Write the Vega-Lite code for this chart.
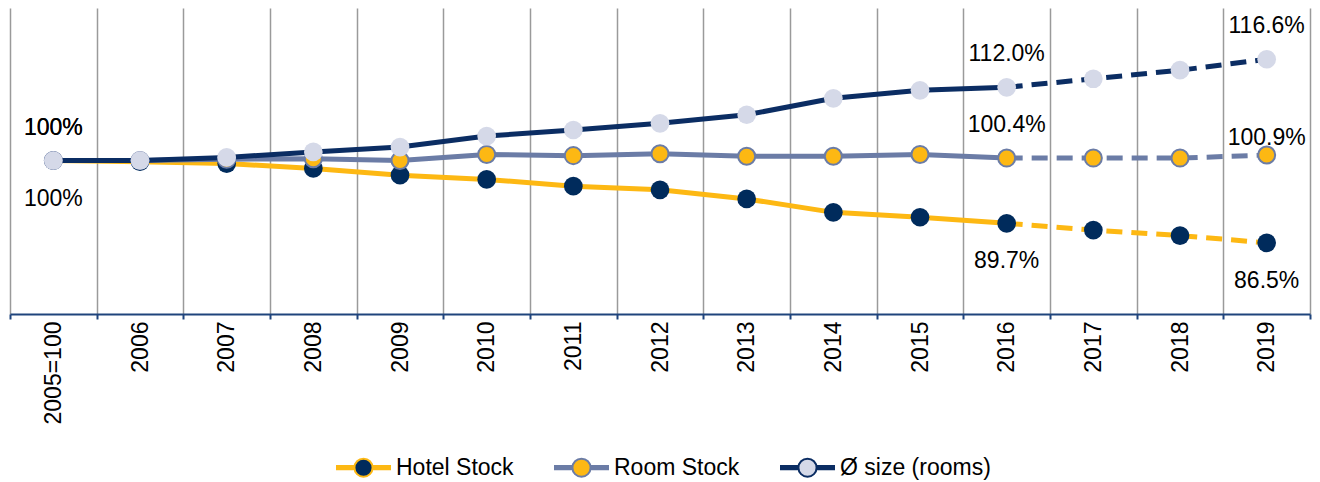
{
  "$schema": "https://vega.github.io/schema/vega-lite/v6.json",
  "width": 1300,
  "height": 306,
  "autosize": {"type": "none"},
  "padding": {"left": 10, "top": 8, "right": 10, "bottom": 168},
  "background": "white",
  "config": {
    "font": "Liberation Sans",
    "view": {"stroke": null}
  },
  "data": {
    "values": [
      {"year": "2005=100", "series": "Hotel Stock", "value": 100, "label": "100%"},
      {"year": "2006", "series": "Hotel Stock", "value": 99.8},
      {"year": "2007", "series": "Hotel Stock", "value": 99.5},
      {"year": "2008", "series": "Hotel Stock", "value": 98.7},
      {"year": "2009", "series": "Hotel Stock", "value": 97.6},
      {"year": "2010", "series": "Hotel Stock", "value": 96.9},
      {"year": "2011", "series": "Hotel Stock", "value": 95.8},
      {"year": "2012", "series": "Hotel Stock", "value": 95.2},
      {"year": "2013", "series": "Hotel Stock", "value": 93.7},
      {"year": "2014", "series": "Hotel Stock", "value": 91.5},
      {"year": "2015", "series": "Hotel Stock", "value": 90.7},
      {"year": "2016", "series": "Hotel Stock", "value": 89.7, "label": "89.7%"},
      {"year": "2017", "series": "Hotel Stock", "value": 88.6},
      {"year": "2018", "series": "Hotel Stock", "value": 87.7},
      {"year": "2019", "series": "Hotel Stock", "value": 86.5, "label": "86.5%"},
      {"year": "2005=100", "series": "Room Stock", "value": 100, "label": "100%"},
      {"year": "2006", "series": "Room Stock", "value": 100.0},
      {"year": "2007", "series": "Room Stock", "value": 100.2},
      {"year": "2008", "series": "Room Stock", "value": 100.3},
      {"year": "2009", "series": "Room Stock", "value": 100.0},
      {"year": "2010", "series": "Room Stock", "value": 101.0},
      {"year": "2011", "series": "Room Stock", "value": 100.8},
      {"year": "2012", "series": "Room Stock", "value": 101.1},
      {"year": "2013", "series": "Room Stock", "value": 100.7},
      {"year": "2014", "series": "Room Stock", "value": 100.7},
      {"year": "2015", "series": "Room Stock", "value": 101.0},
      {"year": "2016", "series": "Room Stock", "value": 100.4, "label": "100.4%"},
      {"year": "2017", "series": "Room Stock", "value": 100.4},
      {"year": "2018", "series": "Room Stock", "value": 100.4},
      {"year": "2019", "series": "Room Stock", "value": 100.9, "label": "100.9%"},
      {"year": "2005=100", "series": "Ø size (rooms)", "value": 100, "label": "100%"},
      {"year": "2006", "series": "Ø size (rooms)", "value": 100.0},
      {"year": "2007", "series": "Ø size (rooms)", "value": 100.5},
      {"year": "2008", "series": "Ø size (rooms)", "value": 101.4},
      {"year": "2009", "series": "Ø size (rooms)", "value": 102.2},
      {"year": "2010", "series": "Ø size (rooms)", "value": 104.0},
      {"year": "2011", "series": "Ø size (rooms)", "value": 105.0},
      {"year": "2012", "series": "Ø size (rooms)", "value": 106.1},
      {"year": "2013", "series": "Ø size (rooms)", "value": 107.5},
      {"year": "2014", "series": "Ø size (rooms)", "value": 110.2},
      {"year": "2015", "series": "Ø size (rooms)", "value": 111.5},
      {"year": "2016", "series": "Ø size (rooms)", "value": 112.0, "label": "112.0%"},
      {"year": "2017", "series": "Ø size (rooms)", "value": 113.4},
      {"year": "2018", "series": "Ø size (rooms)", "value": 114.8},
      {"year": "2019", "series": "Ø size (rooms)", "value": 116.6, "label": "116.6%"}
    ]
  },
  "encoding": {
    "x": {
      "field": "year",
      "type": "nominal",
      "sort": null,
      "scale": {
        "type": "band",
        "paddingInner": 0,
        "paddingOuter": 0,
        "domain": ["2005=100", "2006", "2007", "2008", "2009", "2010", "2011", "2012", "2013", "2014", "2015", "2016", "2017", "2018", "2019"]
      },
      "axis": {
        "title": null,
        "labelAngle": 270,
        "labelFontSize": 23,
        "labelColor": "#000000",
        "labelFont": "Liberation Sans",
        "labelPadding": 2,
        "domainColor": "#1f447c",
        "domainWidth": 2,
        "tickColor": "#1f447c",
        "tickWidth": 2,
        "tickSize": 5,
        "tickBand": "extent",
        "grid": true,
        "gridColor": "#9a9a9a",
        "gridWidth": 1.5
      }
    },
    "y": {
      "field": "value",
      "type": "quantitative",
      "scale": {"domain": [74.84, 125], "nice": false, "zero": false},
      "axis": null
    }
  },
  "layer": [
    {
      "transform": [{"filter": "datum.year !== '2017' && datum.year !== '2018' && datum.year !== '2019'"}],
      "mark": {"type": "line", "strokeWidth": 5, "strokeCap": "butt"},
      "encoding": {
        "stroke": {
          "field": "series",
          "type": "nominal",
          "sort": null,
          "scale": {
            "domain": ["Hotel Stock", "Room Stock", "Ø size (rooms)"],
            "range": ["#FDB813", "#6B7CA6", "#0B2D63"]
          },
          "legend": {
            "orient": "none",
            "legendX": 325,
            "legendY": 431,
            "direction": "horizontal",
            "title": null,
            "padding": 0,
            "symbolType": "M-1,-0.06H-0.33M-1,0H-0.33M-1,0.06H-0.33M0.33,-0.06H1M0.33,0H1M0.33,0.06H1M-0.33,0A0.33,0.33 0 1,0 0.33,0A0.33,0.33 0 1,0 -0.33,0Z",
            "symbolSize": 3025,
            "symbolStrokeWidth": 2,
            "symbolOpacity": 1,
            "labelFontSize": 23,
            "labelFont": "Liberation Sans",
            "labelColor": "#000000",
            "labelOffset": 4,
            "columnPadding": 36,
            "encode": {
              "symbols": {
                "update": {
                  "fill": {"signal": "datum.value === 'Hotel Stock' ? '#002B5C' : datum.value === 'Room Stock' ? '#FDB813' : '#D5D9E8'"},
                  "fillOpacity": {"value": 1}
                }
              }
            }
          }
        }
      }
    },
    {
      "transform": [{"filter": {"field": "year", "oneOf": ["2016", "2017", "2018", "2019"]}}],
      "mark": {"type": "line", "strokeWidth": 5, "strokeDash": [16, 9], "strokeCap": "butt"},
      "encoding": {
        "stroke": {"field": "series", "type": "nominal", "sort": null, "legend": null}
      }
    },
    {
      "mark": {"type": "point", "filled": true, "opacity": 1, "strokeWidth": 2},
      "encoding": {
        "fill": {
          "field": "series",
          "type": "nominal",
          "sort": null,
          "scale": {
            "domain": ["Hotel Stock", "Room Stock", "Ø size (rooms)"],
            "range": ["#002B5C", "#FDB813", "#D5D9E8"]
          },
          "legend": null
        },
        "size": {
          "condition": {"test": "datum.series === 'Room Stock'", "value": 290},
          "value": 350
        },
        "stroke": {
          "condition": {"test": "datum.series === 'Room Stock'", "value": "#6B7CA6"},
          "value": null
        }
      }
    },
    {
      "transform": [{"filter": "isValid(datum.label) && datum.series !== 'Hotel Stock' && !(datum.series === 'Room Stock' && datum.year === '2019')"}],
      "mark": {"type": "text", "fontSize": 23, "font": "Liberation Sans", "color": "#000000", "baseline": "middle", "align": "center", "dy": -33},
      "encoding": {"text": {"field": "label"}}
    },
    {
      "transform": [{"filter": "datum.series === 'Room Stock' && datum.year === '2019'"}],
      "mark": {"type": "text", "fontSize": 23, "font": "Liberation Sans", "color": "#000000", "baseline": "middle", "align": "center", "dy": -17},
      "encoding": {"text": {"field": "label"}}
    },
    {
      "transform": [{"filter": "isValid(datum.label) && datum.series === 'Hotel Stock'"}],
      "mark": {"type": "text", "fontSize": 23, "font": "Liberation Sans", "color": "#000000", "baseline": "middle", "align": "center", "dy": 38},
      "encoding": {"text": {"field": "label"}}
    }
  ]
}
